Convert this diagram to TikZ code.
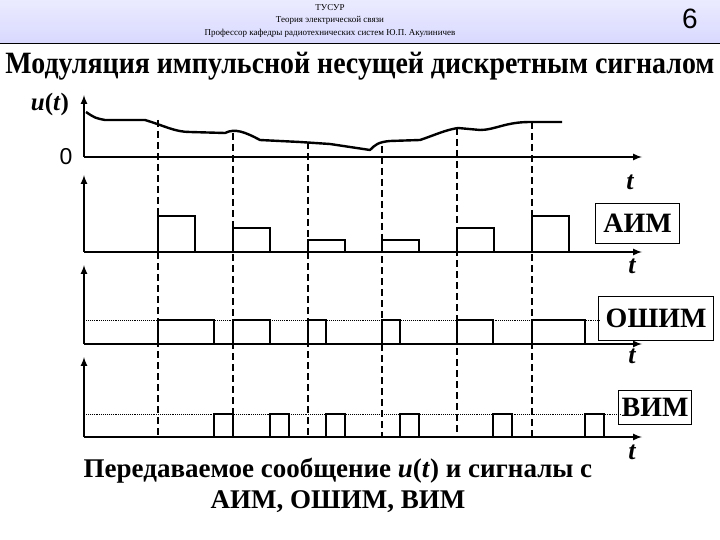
\documentclass[tikz,border=0pt]{standalone}
\usepackage{graphicx}
\usepackage{fontspec}
\setmainfont{Liberation Serif}
\newfontfamily\sansf{Liberation Sans}
\begin{document}
\begin{tikzpicture}[x=1pt,y=-1pt,
  ax/.style={line width=2pt,-latex},
  sig/.style={line width=2pt},
  dsh/.style={line width=1.3pt,dash pattern=on 7pt off 4pt},
  dot/.style={line width=0.9pt,densely dotted},
  lbl/.style={draw,line width=1.2pt,font=\bfseries\fontsize{28}{28}\selectfont,inner sep=0pt,minimum height=40pt},
  tl/.style={font=\bfseries\itshape\fontsize{26}{26}\selectfont}]
\useasboundingbox (0,0) rectangle (720,540);
\shade[top color=blue!8,bottom color=blue!15] (0,0) rectangle (720,43);
\draw[line width=0.8pt] (0,43) -- (720,43);
\node (h1) at (330,8) {\fontsize{9}{9}\selectfont ТУСУР};
\node (h2) at (330,20) {\fontsize{9}{9}\selectfont Теория электрической связи};
\node (h3) at (330,33) {\fontsize{9}{9}\selectfont Профессор кафедры радиотехнических систем Ю.П. Акулиничев};
\node (num) at (690,19) {\sansf\fontsize{28}{28}\selectfont 6};
\node (title) at (360,66) {\scalebox{0.9}[1]{\bfseries\fontsize{31}{31}\selectfont Модуляция импульсной несущей дискретным сигналом}};
\node (ul) at (50,104) {\bfseries\fontsize{25}{25}\selectfont\textit{u}(\textit{t})};
\node (zero) at (66,157) {\sansf\fontsize{23}{23}\selectfont 0};
% axes
\coordinate (o1) at (84,157); \coordinate (o2) at (84,252); \coordinate (o3) at (84,344); \coordinate (o4) at (84,437);
\draw[ax] (o1) -- (84,95);
\draw[ax] (o1) -- (642,157);
\draw[ax] (o2) -- (84,175);
\draw[ax] (o2) -- (642,252);
\draw[ax] (o3) -- (84,265);
\draw[ax] (o3) -- (642,344);
\draw[ax] (o4) -- (84,357);
\draw[ax] (o4) -- (642,437);
\node[tl] (t1) at (630,182) {t};
\node[tl] (t2) at (632,266) {t};
\node[tl] (t3) at (632,356) {t};
\node[tl] (t4) at (632,452) {t};
% curve
\draw[sig,line width=2.4pt,line join=round] (86,112) .. controls (95,118) .. (105,120) -- (145,120) .. controls (165,126) and (175,132) .. (190,132) -- (225,133) .. controls (235,128) and (245,132) .. (260,140) -- (300,142) -- (330,144) -- (370,150) .. controls (375,145) and (378,142) .. (390,141) -- (420,140) .. controls (435,135) and (445,130) .. (458,128) -- (480,130) .. controls (495,130) and (505,122) .. (530,122) -- (562,122);
% dashed
\foreach \x/\y in {158/120,233/133,308/142,382/146,457/128,532/122}
  \draw[dsh] (\x,\y) -- (\x,437);
% AIM
\foreach \x/\h in {158/216,233/228,308/240,382/240,457/228,532/216}
  \draw[sig] (\x,252) -- (\x,\h) -- (\x+37,\h) -- (\x+37,252);
% OSHIM
\draw[dot] (86,320) -- (600,320);
\foreach \x/\e in {158/214,233/270,308/326,382/400,457/493,532/585}
  \draw[sig] (\x,344) -- (\x,320) -- (\e,320) -- (\e,344);
% VIM
\draw[dot] (86,414) -- (620,414);
\foreach \x in {214,270,326,400,493,585}
  \draw[sig] (\x,437) -- (\x,414) -- (\x+19,414) -- (\x+19,437);
\node[lbl,minimum width=84pt,anchor=north west] (aim) at (595,203) {АИМ};
\node[lbl,minimum width=115pt,anchor=north west,minimum height=44pt] (oshim) at (598,296) {ОШИМ};
\node[lbl,minimum width=73pt,anchor=north west,minimum height=34pt] (vim) at (618,390) {ВИМ};
\node[align=center,font=\bfseries\fontsize{27}{31}\selectfont] (cap) at (338,485) {Передаваемое сообщение \textit{u}(\textit{t}) и сигналы с\\АИМ, ОШИМ, ВИМ};
\end{tikzpicture}
\end{document}
